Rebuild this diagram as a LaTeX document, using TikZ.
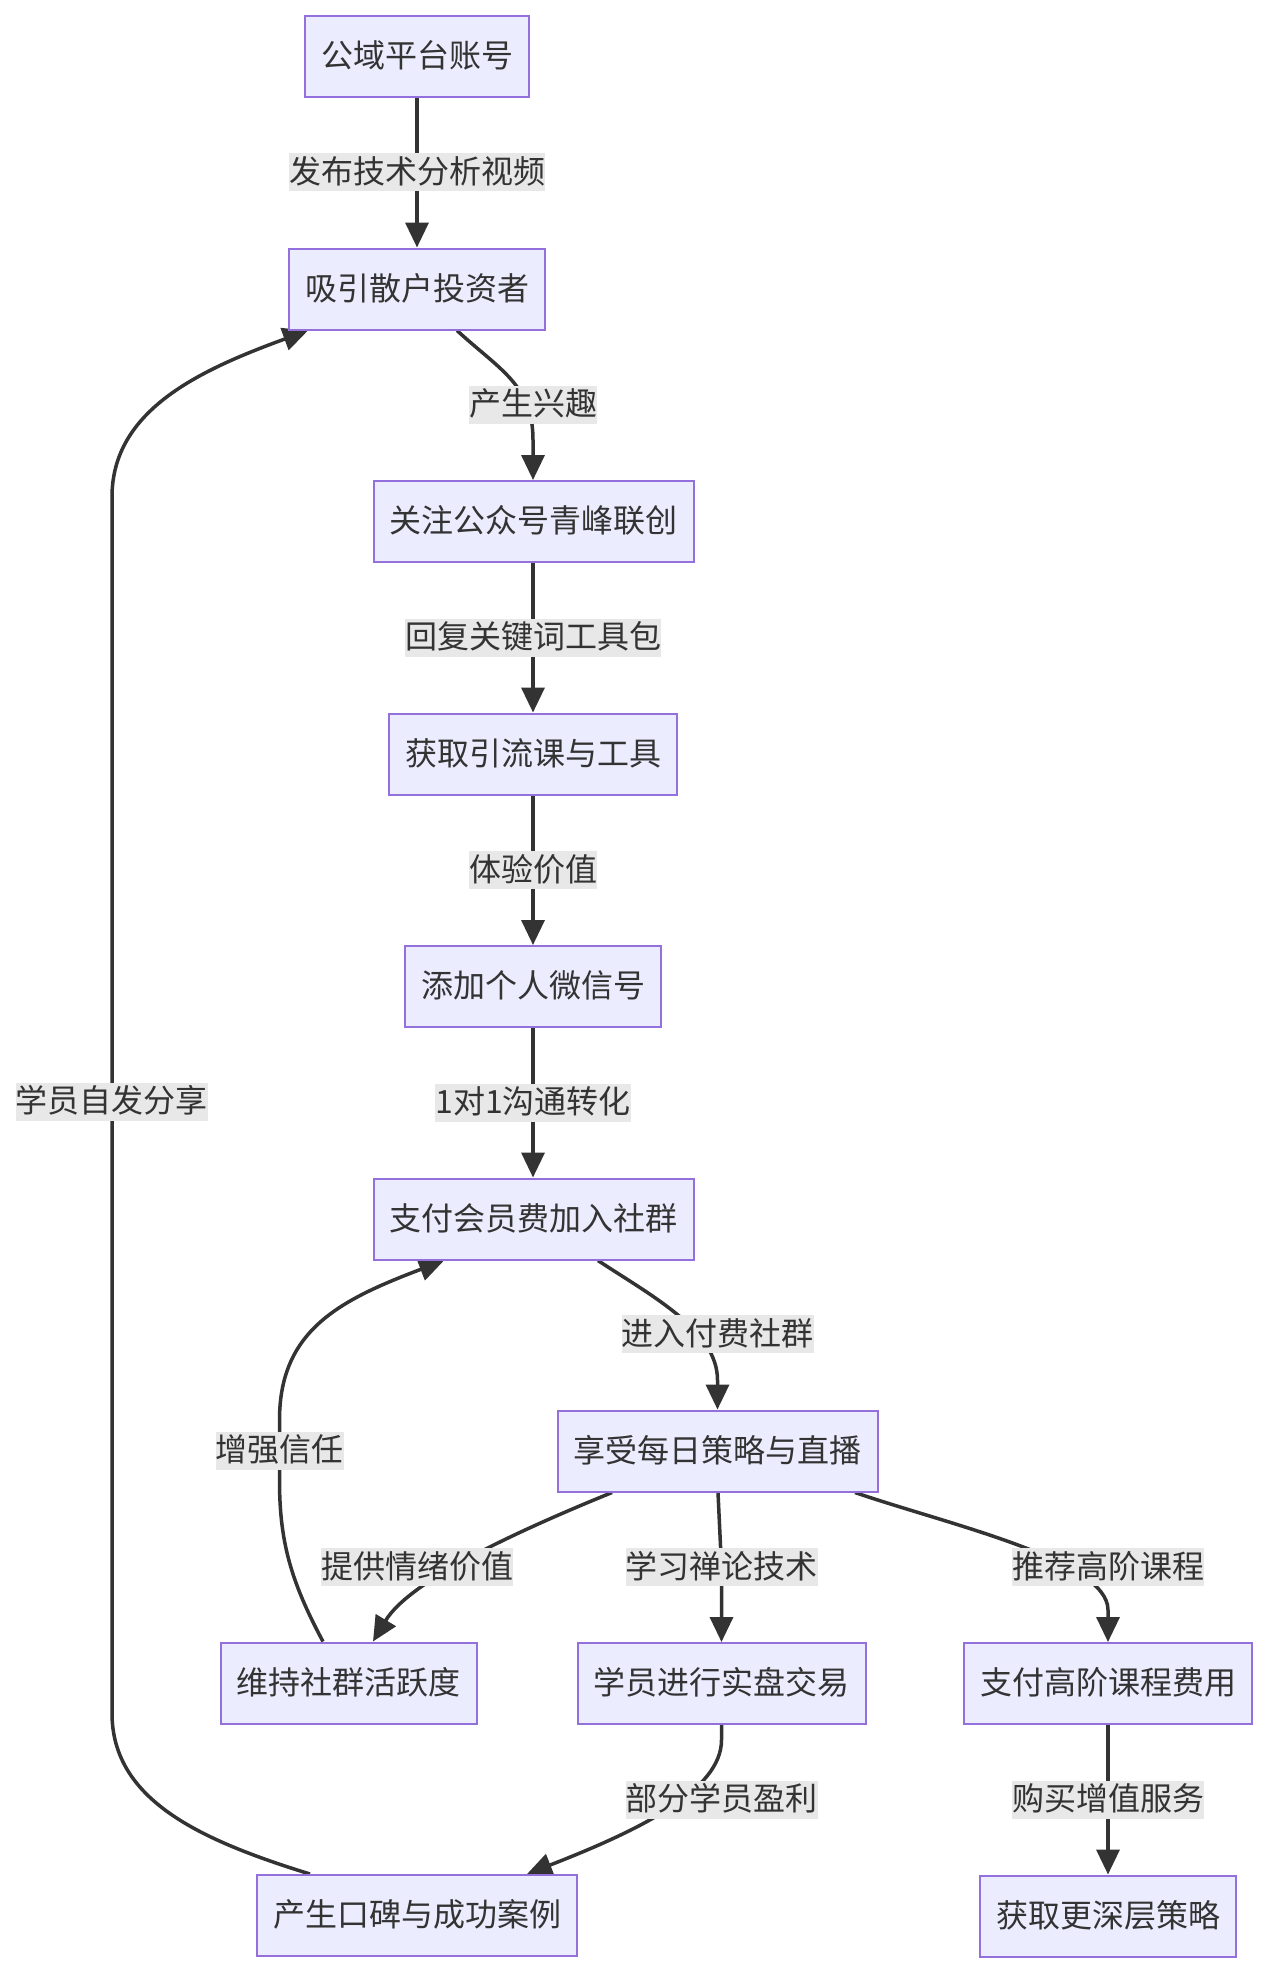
\documentclass[tikz,border=0pt]{standalone}
\usepackage{fontspec}
\setmainfont{Noto Sans CJK SC}
\usetikzlibrary{arrows.meta,backgrounds}
\definecolor{nodefill}{HTML}{ECECFF}
\definecolor{nodeline}{HTML}{9370DB}
\definecolor{edgecol}{HTML}{333333}
\definecolor{lblfill}{HTML}{E8E8E8}
\begin{document}
\begin{tikzpicture}[x=1pt,y=-1pt,
  box/.style={draw=nodeline, line width=2pt, fill=nodefill, minimum height=81pt,
    inner xsep=16pt, inner ysep=0pt, text height=28pt, text depth=6pt,
    font=\fontsize{32}{38}\selectfont, text=edgecol},
  lbl/.style={fill=lblfill, inner xsep=0pt, inner ysep=2pt, text height=28pt,
    text depth=6pt, font=\fontsize{32}{38}\selectfont, text=edgecol},
  arr/.style={draw=edgecol, line width=3.5pt,
    -{Triangle[length=25pt,width=23pt]}}]
\useasboundingbox (0,0) rectangle (1268,1974);

% nodes
\node[box] (n1) at (417,56.5) {公域平台账号};
\node[box] (n2) at (417,289) {吸引散户投资者};
\node[box] (n3) at (533.5,521.5) {关注公众号青峰联创};
\node[box] (n4) at (533,754) {获取引流课与工具};
\node[box] (n5) at (533,986.5) {添加个人微信号};
\node[box] (n6) at (533.5,1219) {支付会员费加入社群};
\node[box] (n7) at (717.5,1451) {享受每日策略与直播};
\node[box] (n8) at (348.5,1683) {维持社群活跃度};
\node[box] (n9) at (721.5,1683.5) {学员进行实盘交易};
\node[box] (n10) at (1108,1683.5) {支付高阶课程费用};
\node[box] (n11) at (417,1915.5) {产生口碑与成功案例};
\node[box] (n12) at (1108,1916) {获取更深层策略};

% edge labels
\node[lbl] (l1) at (417,172) {发布技术分析视频};
\node[lbl] (l2) at (533,404.5) {产生兴趣};
\node[lbl] (l3) at (533,637.5) {回复关键词工具包};
\node[lbl] (l4) at (533,870) {体验价值};
\node[lbl] (l5) at (533,1102.5) {1对1沟通转化};
\node[lbl] (l6) at (717.5,1334) {进入付费社群};
\node[lbl] (l7) at (279.5,1450.5) {增强信任};
\node[lbl] (l8) at (417,1567) {提供情绪价值};
\node[lbl] (l9) at (721.5,1567) {学习禅论技术};
\node[lbl] (l10) at (1108,1567) {推荐高阶课程};
\node[lbl] (l11) at (721.5,1799.5) {部分学员盈利};
\node[lbl] (l12) at (1108,1799.5) {购买增值服务};
\node[lbl] (l13) at (112,1101.5) {学员自发分享};

\begin{scope}[on background layer]
\fill[white] (0,0) rectangle (1268,1974);
% straight edges
\draw[arr] (n1.south) -- (l1.center) -- (n2.north);
\draw[arr] (n3.south -| 533,0) -- (l3.center) -- (n4.north -| 533,0);
\draw[arr] (n4.south) -- (l4.center) -- (n5.north);
\draw[arr] (n5.south) -- (l5.center) -- (n6.north -| 533,0);
\draw[arr] (n10.south) -- (l12.center) -- (n12.north);
\draw[arr] ([xshift=0.5pt]n7.south) -- (l9.center) -- (n9.north);
% curved edges
\draw[arr] ([xshift=40pt]n2.south) .. controls (500,370) and (533,385) .. (533,440) -- (n3.north -| 533,0);
\draw[arr] ([xshift=64.5pt]n6.south) .. controls (650,1295) and (717.5,1330) .. (717.5,1380) -- (n7.north);
\draw[arr] ([xshift=-105.5pt]n7.south) .. controls (520,1530) and (410,1580) .. ([xshift=24.5pt]n8.north);
\draw[arr] ([xshift=-25.5pt]n8.north) .. controls (290,1580) and (279.5,1540) .. (279.5,1480)
  -- (l7.center) -- (279.5,1420) .. controls (279.5,1330) and (340,1300) .. ([xshift=-89.5pt]n6.south);
\draw[arr] ([xshift=137.5pt]n7.south) .. controls (950,1525) and (1108,1560) .. (1108,1610) -- (n10.north);
\draw[arr] (n9.south) -- (721.5,1740) .. controls (721.5,1790) and (640,1830) .. ([xshift=110pt]n11.north);
\draw[arr] ([xshift=-107pt]n11.north) .. controls (200,1840) and (112,1800) .. (112,1713)
  -- (l13.center) -- (112,497) .. controls (112,410) and (200,370) .. ([xshift=-109pt]n2.south);
\end{scope}
\end{tikzpicture}
\end{document}
